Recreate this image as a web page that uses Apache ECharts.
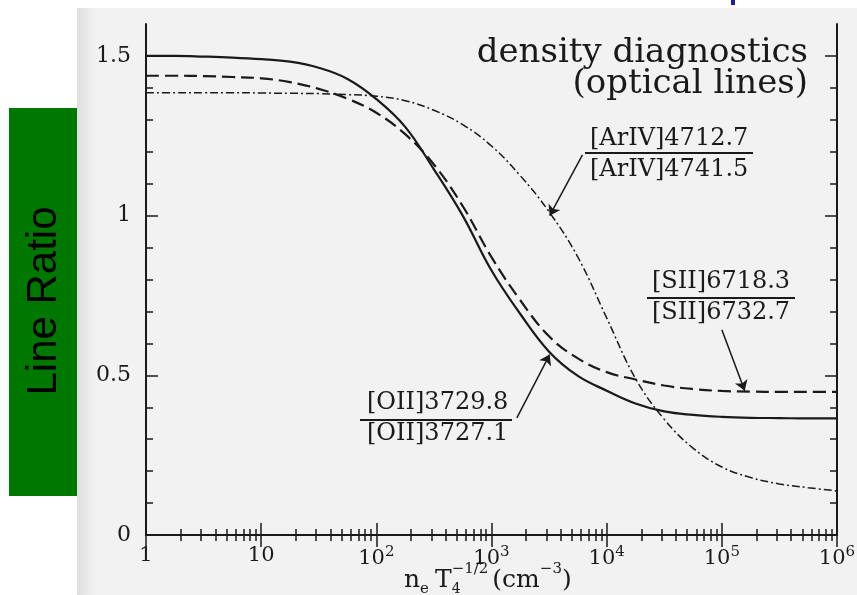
<!DOCTYPE html>
<html>
<head>
<meta charset="utf-8">
<script src="https://cdn.jsdelivr.net/npm/echarts@6/dist/echarts.min.js"></script>
<style>
html,body{margin:0;padding:0;background:#fff;}
#main{width:857px;height:595px;}
</style>
</head>
<body>
<div id="main"></div>
<script>
// electron density n_e T4^-1/2 (cm^-3), quarter decades
var density = [1, 1.78, 3.16, 5.62, 10, 17.8, 31.6, 56.2, 100, 178, 316, 562, 1000, 1778, 3162, 5623,
    10000, 17783, 31623, 56234, 100000, 177828, 316228, 562341, 1000000];
// [OII]3729.8/[OII]3727.1 (solid)
var oiiRatio = [1.500, 1.500, 1.498, 1.495, 1.490, 1.482, 1.463, 1.428, 1.365, 1.278, 1.145, 1.000, 0.828,
    0.692, 0.574, 0.498, 0.452, 0.412, 0.387, 0.376, 0.370, 0.367, 0.366, 0.365, 0.365];
// [SII]6718.3/[SII]6732.7 (dashed)
var siiRatio = [1.438, 1.438, 1.437, 1.434, 1.430, 1.418, 1.397, 1.366, 1.322, 1.255, 1.160, 1.030, 0.870,
    0.735, 0.622, 0.553, 0.510, 0.487, 0.468, 0.457, 0.451, 0.449, 0.448, 0.448, 0.448];
// [ArIV]4712.7/[ArIV]4741.5 (dash-dot)
var arivRatio = [1.385, 1.385, 1.385, 1.385, 1.384, 1.383, 1.382, 1.379, 1.374, 1.360, 1.330, 1.285, 1.218,
    1.125, 1.012, 0.870, 0.680, 0.490, 0.362, 0.272, 0.213, 0.180, 0.160, 0.148, 0.138];

var decadeTicks = [1, 10, 100, 1000, 10000, 100000, 1000000];
var decadeLabels = ['1', '10', '10{sup|2}', '10{sup|3}', '10{sup|4}', '10{sup|5}', '10{sup|6}'];
var minorMultiples = [2, 3, 4, 5, 6, 7, 8, 9];
var yMajor = [0, 0.5, 1, 1.5];
var yMinor = [0.1, 0.2, 0.3, 0.4, 0.6, 0.7, 0.8, 0.9, 1.1, 1.2, 1.3, 1.4];

var ink = '#1a1a1a';
var serif = '"DejaVu Serif", serif';

// minor ticks 2..9 in every decade
var xMinor = [];
decadeTicks.slice(0, 6).forEach(function(d){
    minorMultiples.forEach(function(m){ xMinor.push(m * d); });
});

function pairs(vals){
    return density.map(function(d, i){ return [d, vals[i]]; });
}

function xAxis(pos, ticks, len, main, labels){
    return {
        type: 'log', logBase: 10, min: 1, max: 1000000, position: pos,
        axisLine: {show: main, lineStyle: {color: ink, width: 2}},
        axisTick: {show: true, inside: true, length: len, customValues: ticks, lineStyle: {color: ink, width: 1.5}},
        axisLabel: labels ? {
            customValues: decadeTicks, margin: 10, color: ink, fontSize: 21, fontFamily: serif,
            formatter: function(v){ return decadeLabels[Math.round(Math.log(v) / Math.LN10)]; },
            rich: {sup: {fontSize: 15, fontFamily: serif, color: ink, padding: [0, 0, 12, 0]}}
        } : {show: false},
        splitLine: {show: false}, minorSplitLine: {show: false}
    };
}
function yAxis(pos, ticks, len, main, labels){
    return {
        type: 'value', min: 0, max: 1.6, position: pos,
        axisLine: {show: main, lineStyle: {color: ink, width: 2}},
        axisTick: {show: true, inside: true, length: len, customValues: ticks, lineStyle: {color: ink, width: 1.5}},
        axisLabel: labels ? {customValues: yMajor, margin: 15, color: ink, fontSize: 22, fontFamily: serif} : {show: false},
        splitLine: {show: false}
    };
}

function fraction(x, cy, top, bottom, x1, x2, ly){
    return [
        {type: 'text', z: 100, style: {text: top, x: x, y: cy, font: '24px ' + serif, fill: ink, textVerticalAlign: 'middle'}},
        {type: 'line', z: 100, shape: {x1: x1, y1: ly, x2: x2, y2: ly}, style: {stroke: ink, lineWidth: 2}},
        {type: 'text', z: 100, style: {text: bottom, x: x, y: cy + 31, font: '24px ' + serif, fill: ink, textVerticalAlign: 'middle'}}
    ];
}

// x axis title n_e T_4^-1/2 (cm^-3), laid out piece by piece
var measure = document.createElement('canvas').getContext('2d');
function textWidth(t, size){
    measure.font = size + 'px "DejaVu Serif"';
    return measure.measureText(t).width;
}
function axisTitle(){
    var out = [], x = 404, base = 580;
    function put(t, size, dy){
        out.push({type: 'text', z: 100, style: {text: t, x: x, y: base + dy, font: size + 'px ' + serif, fill: ink, textVerticalAlign: 'middle'}});
        return textWidth(t, size);
    }
    x += put('n', 25, 0);
    x += put('e', 15, 9) + 6;
    x += put('T', 25, 0);
    var w1 = put('4', 14, 9);
    var w2 = put('−1/2', 15, -11);
    x += Math.max(w1, w2) + 4;
    x += put('(cm', 25, 0);
    x += put('−3', 15, -11);
    put(')', 25, 0);
    return out;
}

var chart = echarts.init(document.getElementById('main'));
chart.setOption({
    backgroundColor: '#fff',
    animation: false,
    grid: {left: 146, right: 20, top: 24, bottom: 60, outerBoundsMode: 'none'},
    xAxis: [
        xAxis('bottom', decadeTicks, 12, true, true),
        xAxis('bottom', xMinor, 6, false, false),
        xAxis('top', decadeTicks, 12, true, false),
        xAxis('top', xMinor, 6, false, false)
    ],
    yAxis: [
        yAxis('left', yMajor, 12, true, true),
        yAxis('left', yMinor, 7, false, false),
        yAxis('right', yMajor, 12, true, false),
        yAxis('right', yMinor, 7, false, false)
    ],
    series: [
        {
            name: '[OII]', type: 'line', data: pairs(oiiRatio), showSymbol: false, smooth: 0.4, silent: true,
            lineStyle: {color: ink, width: 2.2},
            markLine: {
                silent: true, symbol: ['none', 'arrow'], symbolSize: 10,
                label: {show: false},
                lineStyle: {color: ink, width: 1.5, type: 'solid'},
                data: [
                    [{coord: [6166, 1.19]}, {coord: [3200, 1.0]}],
                    [{coord: [100000, 0.643]}, {coord: [158000, 0.452]}],
                    [{coord: [1660, 0.367]}, {coord: [3200, 0.565]}]
                ]
            }
        },
        {
            name: '[SII]', type: 'line', data: pairs(siiRatio), showSymbol: false, smooth: 0.4, silent: true,
            lineStyle: {color: ink, width: 2.2, type: [13, 6]}
        },
        {
            name: '[ArIV]', type: 'line', data: pairs(arivRatio), showSymbol: false, smooth: 0.4, silent: true,
            lineStyle: {color: ink, width: 1.5, type: [8, 3, 2, 3]}
        }
    ],
    graphic: [
        // scanned page
        {type: 'rect', z: -10, shape: {x: 77, y: 8, width: 780, height: 587}, style: {fill: '#f2f2f2'}},
        {type: 'rect', z: -9, shape: {x: 77, y: 8, width: 18, height: 587},
            style: {fill: new echarts.graphic.LinearGradient(0, 0, 1, 0, [{offset: 0, color: '#dedede'}, {offset: 1, color: '#f2f2f2'}])}},
        {type: 'rect', z: 100, shape: {x: 731, y: 0, width: 4, height: 5}, style: {fill: '#1c1ca0'}},
        // axis title block
        {type: 'rect', z: 100, shape: {x: 9, y: 108, width: 68, height: 388}, style: {fill: '#007800'}},
        {type: 'text', z: 101, x: 44, y: 301, rotation: Math.PI / 2,
            style: {text: 'Line Ratio', font: '42px "Liberation Sans", sans-serif', fill: '#000', textAlign: 'center', textVerticalAlign: 'middle'}},
        // plot title
        {type: 'text', z: 100, style: {text: 'density diagnostics', x: 808, y: 53, font: '34px ' + serif, fill: ink, textAlign: 'right', textVerticalAlign: 'middle'}},
        {type: 'text', z: 100, style: {text: '(optical lines)', x: 808, y: 84, font: '34px ' + serif, fill: ink, textAlign: 'right', textVerticalAlign: 'middle'}}
    ].concat(
        axisTitle(),
        fraction(590, 139, '[ArIV]4712.7', '[ArIV]4741.5', 585, 753, 153),
        fraction(652, 282, '[SII]6718.3', '[SII]6732.7', 647, 795, 298),
        fraction(367, 403, '[OII]3729.8', '[OII]3727.1', 360, 512, 420)
    )
});
</script>
</body>
</html>
